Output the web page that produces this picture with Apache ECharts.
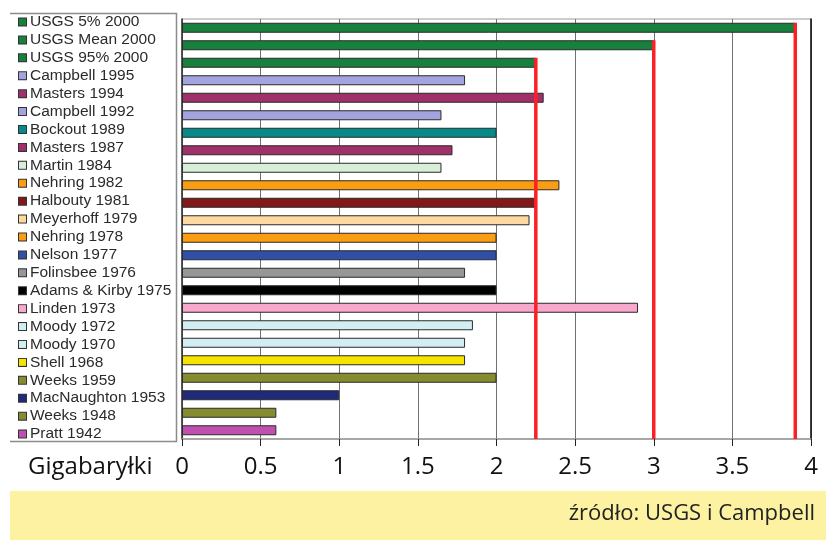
<!DOCTYPE html>
<html>
<head>
<meta charset="utf-8">
<script src="https://cdn.jsdelivr.net/npm/echarts@6/dist/echarts.min.js"></script>
<style>
    html, body { margin: 0; padding: 0; background: #fff; }
    #chart { width: 826px; height: 540px; }
</style>
</head>
<body>
<div id="chart"></div>
<script>
var categories = ['USGS 5% 2000', 'USGS Mean 2000', 'USGS 95% 2000', 'Campbell 1995', 'Masters 1994',
    'Campbell 1992', 'Bockout 1989', 'Masters 1987', 'Martin 1984', 'Nehring 1982', 'Halbouty 1981',
    'Meyerhoff 1979', 'Nehring 1978', 'Nelson 1977', 'Folinsbee 1976', 'Adams & Kirby 1975',
    'Linden 1973', 'Moody 1972', 'Moody 1970', 'Shell 1968', 'Weeks 1959', 'MacNaughton 1953',
    'Weeks 1948', 'Pratt 1942'];

var values = [3.9, 3.0, 2.25, 1.8, 2.3, 1.65, 2.0, 1.72, 1.65, 2.4, 2.25, 2.21, 2.0, 2.0, 1.8, 2.0,
    2.9, 1.85, 1.8, 1.8, 2.0, 1.0, 0.6, 0.6];

var barColors = ['#17803d', '#17803d', '#17803d', '#a3a3e0', '#a0306a', '#a3a3e0', '#06898a', '#a0306a',
    '#d8eed8', '#fa9d12', '#821818', '#fbd9a0', '#fa9d12', '#2f4fa8', '#979797', '#000000',
    '#f7a8cc', '#d2eef2', '#d2eef2', '#f5e400', '#858b2e', '#1f2a78', '#858b2e', '#c050b0'];

// czerwone linie USGS: [wartość, indeks kategorii]
var usgsLines = [[3.9, 0], [3.0, 1], [2.25, 2]];

var xTicks = [0, 4, 0.5];   // min, max, interval

function buildLegendRich() {
    var rich = {
        t: { fontFamily: 'Liberation Sans', fontSize: 15.5, color: '#2b2b2b', padding: [0, 0, 0, 4] }
    };
    for (var i = 0; i < barColors.length; i++) {
        rich['m' + i] = {
            width: 7, height: 7,
            backgroundColor: barColors[i],
            borderColor: '#333', borderWidth: 1
        };
    }
    return rich;
}

function renderRedLine(params, api) {
    var p = api.coord([api.value(0), api.value(1)]);
    var cs = params.coordSys;
    return {
        type: 'line',
        shape: { x1: p[0], y1: p[1] - 5, x2: p[0], y2: cs.y + cs.height },
        style: { stroke: '#fb2026', lineWidth: 3.5 }
    };
}

var chart = echarts.init(document.getElementById('chart'));

var option = {
    animation: false,
    backgroundColor: '#fff',
    grid: [
        { left: 182, right: 15, top: 19, bottom: 101, show: true, borderColor: '#9a9a9a', borderWidth: 1 },
        { left: 19, width: 150, top: 13, height: 430 }
    ],
    xAxis: [
        {
            gridIndex: 0, type: 'value',
            min: xTicks[0], max: xTicks[1], interval: xTicks[2],
            axisLine: { show: true, lineStyle: { color: '#9a9a9a', width: 1.5 } },
            axisTick: { show: true, length: 7, lineStyle: { color: '#222' } },
            splitLine: { show: true, lineStyle: { color: '#707070', width: 1 } },
            axisLabel: { fontFamily: 'Open Sans', fontSize: 24, color: '#111', margin: 16 }
        },
        { gridIndex: 1, type: 'value', show: false }
    ],
    yAxis: [
        {
            gridIndex: 0, type: 'category', data: categories, inverse: true,
            axisLine: { show: true, lineStyle: { color: '#333', width: 1.5 } },
            axisTick: { show: false },
            axisLabel: { show: false }
        },
        {
            gridIndex: 0, type: 'category', data: categories, inverse: true, position: 'right',
            axisLine: { show: true, lineStyle: { color: '#111', width: 1.5 } },
            axisTick: { show: false },
            axisLabel: { show: false }
        },
        {
            gridIndex: 1, type: 'category', data: categories, inverse: true,
            axisLine: { show: false },
            axisTick: { show: false },
            axisLabel: {
                show: true, align: 'left', margin: 0,
                formatter: function (value, index) {
                    return '{m' + index + '|}{t|' + value + '}';
                },
                rich: buildLegendRich()
            }
        }
    ],
    series: [
        {
            type: 'bar',
            xAxisIndex: 0, yAxisIndex: 0,
            barWidth: 10,
            data: values.map(function (v, i) {
                return { value: v, itemStyle: { color: barColors[i] } };
            }),
            itemStyle: { borderColor: '#2a2a2a', borderWidth: 1 }
        },
        {
            type: 'custom',
            xAxisIndex: 0, yAxisIndex: 0,
            renderItem: renderRedLine,
            data: usgsLines,
            z: 5
        }
    ],
    graphic: [
        {
            type: 'polyline',
            shape: { points: [[10, 13.5], [176.5, 13.5], [176.5, 441.5], [10, 441.5]] },
            style: { stroke: '#8c8c8c', lineWidth: 1.5, fill: null }
        },
        {
            type: 'text', left: 28, top: 455,
            style: { text: 'Gigabaryłki', fontFamily: 'Open Sans', fontSize: 24, fill: '#111' }
        },
        {
            type: 'rect',
            shape: { x: 10, y: 491, width: 816, height: 49 },
            style: { fill: '#fcf2a2' }
        },
        {
            type: 'text', right: 11, top: 503,
            style: { text: 'źródło: USGS i Campbell', fontFamily: 'Open Sans', fontSize: 22, fill: '#222' }
        }
    ]
};

chart.setOption(option);
</script>
</body>
</html>
